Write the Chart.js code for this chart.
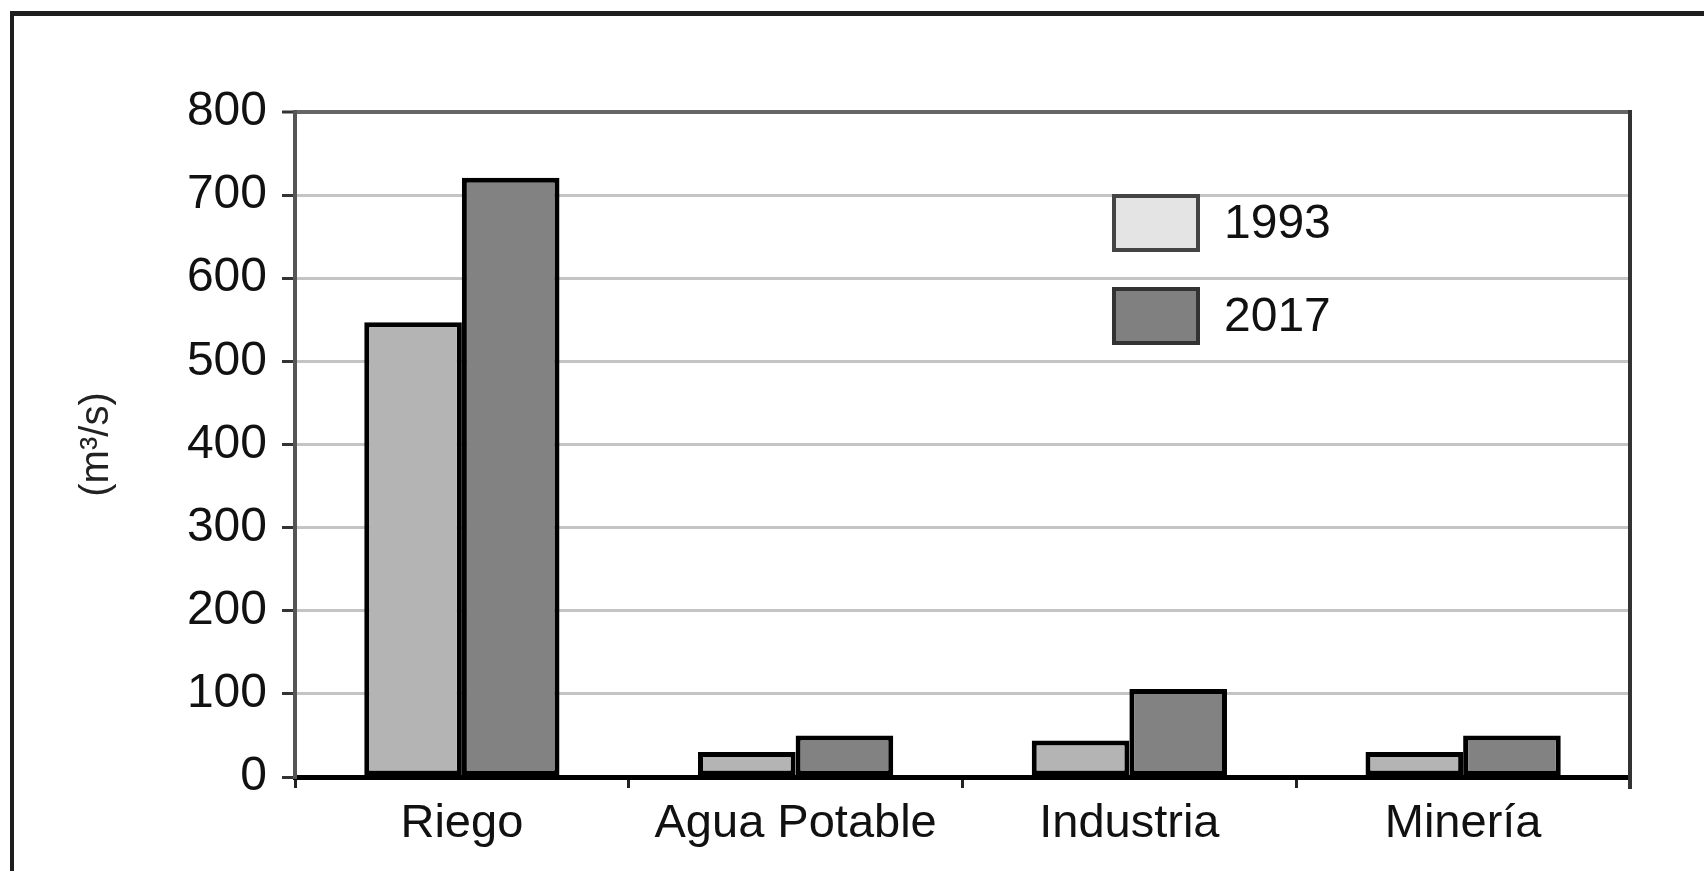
<!DOCTYPE html>
<html>
<head>
<meta charset="utf-8">
<script src="https://cdn.jsdelivr.net/npm/chart.js@4.4.1/dist/chart.umd.min.js"></script>
<style>
    html, body { margin: 0; padding: 0; background: #fff; overflow: hidden; }
    #wrap { position: relative; width: 1704px; height: 871px; }
    #frame {
        position: absolute; left: 10px; top: 11px; width: 1700px; height: 870px;
        border-top: 5px solid #1e1e1e; border-left: 4px solid #1e1e1e;
        pointer-events: none;
    }
    #chart { position: absolute; left: 0; top: 0; }
</style>
</head>
<body>
<div id="wrap">
    <canvas id="chart" width="1704" height="871"></canvas>
    <div id="frame"></div>
</div>
<script>
const categories = ["Riego", "Agua Potable", "Industria", "Minería"];
const seriesLabels = ["1993", "2017"];
const values1993 = [547, 30, 44, 30];
const values2017 = [721, 50, 106, 50];
const yTicks = [0, 100, 200, 300, 400, 500, 600, 700, 800];

const FONT = "'Liberation Sans', Arial, sans-serif";

// Legend swatches are lighter than the bars in the original
const legendColors = [
    { fill: "#e4e4e4", border: "#444" },
    { fill: "#808080", border: "#333" }
];

// Draws the right border of the plot and the boxed legend
const plotExtras = {
    id: "plotExtras",
    afterDraw(chart) {
        const { ctx, chartArea } = chart;
        ctx.save();
        ctx.strokeStyle = "#333";
        ctx.lineWidth = 4;
        ctx.beginPath();
        ctx.moveTo(chartArea.right, chartArea.top - 2);
        ctx.lineTo(chartArea.right, chartArea.bottom + 12);
        ctx.stroke();

        const boxX = 1112, boxW = 88, boxH = 58;
        const rows = [194, 287];
        chart.data.datasets.forEach((ds, i) => {
            const y = rows[i];
            ctx.fillStyle = legendColors[i].fill;
            ctx.fillRect(boxX, y, boxW, boxH);
            ctx.strokeStyle = legendColors[i].border;
            ctx.lineWidth = 4;
            ctx.strokeRect(boxX + 2, y + 2, boxW - 4, boxH - 4);
            ctx.fillStyle = "#111";
            ctx.font = `48px ${FONT}`;
            ctx.textBaseline = "middle";
            ctx.textAlign = "left";
            ctx.fillText(ds.label, 1224, y + boxH / 2 + 2);
        });
        ctx.restore();
    }
};

new Chart(document.getElementById("chart"), {
    type: "bar",
    data: {
        labels: categories,
        datasets: [
            {
                label: seriesLabels[0],
                data: values1993,
                backgroundColor: "#b4b4b4",
                borderColor: "#000",
                borderWidth: 5,
                borderSkipped: false
            },
            {
                label: seriesLabels[1],
                data: values2017,
                backgroundColor: "#828282",
                borderColor: "#000",
                borderWidth: 5,
                borderSkipped: false
            }
        ]
    },
    options: {
        responsive: false,
        animation: false,
        layout: { padding: { left: 0, top: 112, right: 74, bottom: 0 } },
        datasets: { bar: { categoryPercentage: 0.585, barPercentage: 1.0 } },
        plugins: {
            legend: { display: false },
            tooltip: { enabled: false }
        },
        scales: {
            x: {
                afterFit: scale => { scale.height = 94; },
                border: { color: "#000", width: 5 },
                grid: {
                    display: true,
                    drawOnChartArea: false,
                    offset: true,
                    tickLength: 11,
                    tickColor: "#222",
                    tickWidth: 3
                },
                ticks: {
                    padding: 8,
                    color: "#111",
                    font: { family: FONT, size: 47 }
                }
            },
            y: {
                min: 0,
                max: 800,
                afterFit: scale => { scale.width = 295; },
                afterBuildTicks: scale => { scale.ticks = yTicks.map(v => ({ value: v })); },
                border: { color: "#555", width: 4 },
                grid: {
                    color: ctx => ctx.tick && ctx.tick.value === 800 ? "#666" : "#c4c4c4",
                    lineWidth: ctx => ctx.tick && ctx.tick.value === 800 ? 4 : 3,
                    tickLength: 13,
                    tickColor: "#333",
                    tickWidth: 3
                },
                ticks: {
                    padding: 15,
                    color: "#111",
                    font: { family: FONT, size: 48 }
                },
                title: {
                    display: true,
                    text: "(m³/s)",
                    color: "#222",
                    padding: { top: 73, bottom: 0 },
                    font: { family: FONT, size: 40 }
                }
            }
        }
    },
    plugins: [plotExtras]
});
</script>
</body>
</html>
